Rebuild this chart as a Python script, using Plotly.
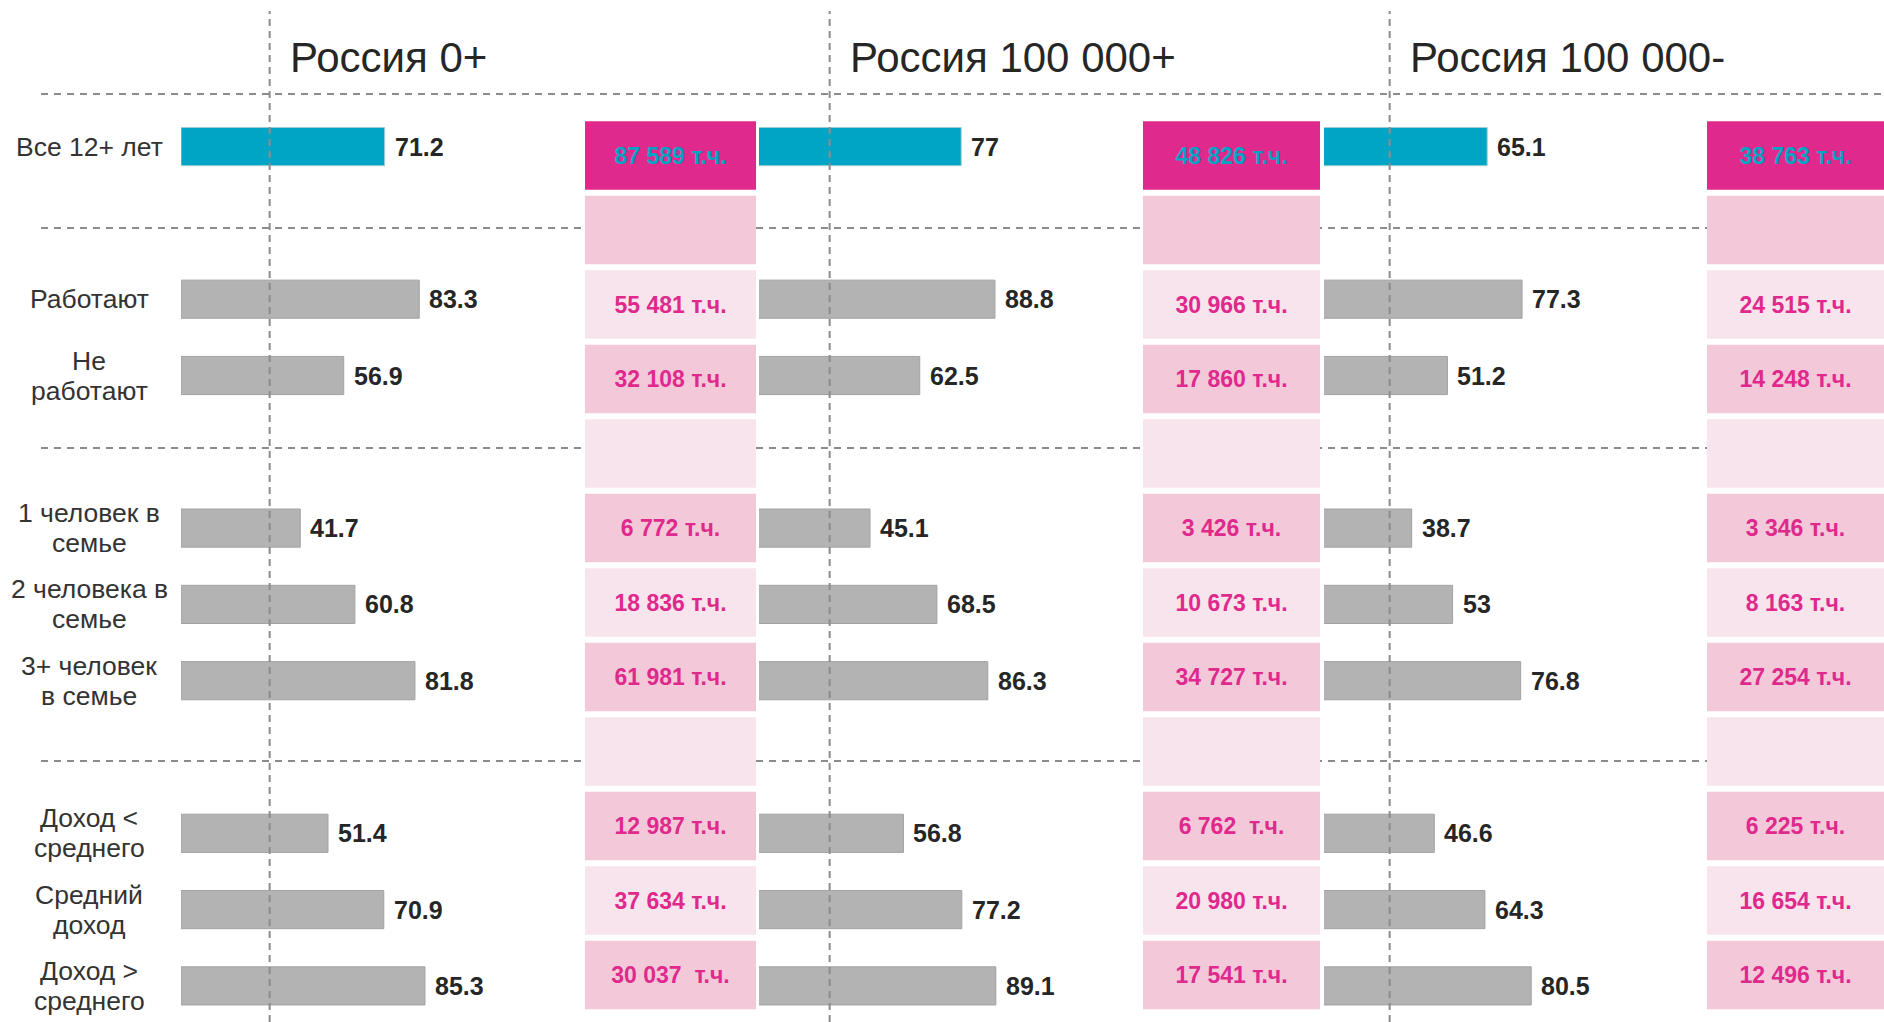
import plotly.graph_objects as go

W, H = 1884, 1022

# ---------------- data ----------------
row_labels = ["Все 12+ лет", "", "Работают", "Не<br>работают", "",
              "1 человек в<br>семье", "2 человека в<br>семье", "3+ человек<br>в семье", "",
              "Доход <<br>среднего", "Средний<br>доход", "Доход ><br>среднего"]

panel_titles = ["Россия 0+", "Россия 100 000+", "Россия 100 000-"]

values_russia_0 = [71.2, None, 83.3, 56.9, None, 41.7, 60.8, 81.8, None, 51.4, 70.9, 85.3]
values_russia_100k_plus = [77, None, 88.8, 62.5, None, 45.1, 68.5, 86.3, None, 56.8, 77.2, 89.1]
values_russia_100k_minus = [65.1, None, 77.3, 51.2, None, 38.7, 53, 76.8, None, 46.6, 64.3, 80.5]

pop_russia_0 = ["87 589 т.ч.", "", "55 481 т.ч.", "32 108 т.ч.", "", "6 772 т.ч.",
                "18 836 т.ч.", "61 981 т.ч.", "", "12 987 т.ч.", "37 634 т.ч.", "30 037\u00a0 т.ч."]
pop_russia_100k_plus = ["48 826 т.ч.", "", "30 966 т.ч.", "17 860 т.ч.", "", "3 426 т.ч.",
                        "10 673 т.ч.", "34 727 т.ч.", "", "6 762\u00a0 т.ч.", "20 980 т.ч.", "17 541 т.ч."]
pop_russia_100k_minus = ["38 763 т.ч.", "", "24 515 т.ч.", "14 248 т.ч.", "", "3 346 т.ч.",
                         "8 163 т.ч.", "27 254 т.ч.", "", "6 225 т.ч.", "16 654 т.ч.", "12 496 т.ч."]

reference_value = 31

# ---------------- styling ----------------
FONT = "Liberation Sans, Arial, sans-serif"
BLUE = "#00A5C6"
GREY = "#B3B3B3"
MAGENTA = "#E0298C"
PINK = "#F3C9DA"
LIGHT_PINK = "#F8E4EC"
DASH_COL = "#8C8C8C"

px_per_unit = 2.86
zeros_px = [181, 741, 1301]          # pixel of value 0 for each panel
bar_start_px = [181, 759, 1324]      # left edge of each bar area
bar_end_px = [585, 1143, 1707]       # right edge (start of pink column)
box_px = [(585, 756), (1143, 1320), (1707, 1884)]

rows = list(range(len(row_labels)))
panels = [values_russia_0, values_russia_100k_plus, values_russia_100k_minus]
pops = [pop_russia_0, pop_russia_100k_plus, pop_russia_100k_minus]

fig = go.Figure()

bar_colors = [BLUE if i == 0 else GREY for i in rows]
bar_lines = ["#9FCBD6" if i == 0 else "#A2A2A2" for i in rows]

for p, vals in enumerate(panels):
    xa = "x" if p == 0 else f"x{p+1}"
    fig.add_trace(go.Bar(
        x=vals, y=rows, orientation="h", xaxis=xa, yaxis="y",
        width=0.5, marker=dict(color=bar_colors, line=dict(color=bar_lines, width=1)),
        hoverinfo="skip", showlegend=False))

box_colors = [MAGENTA] + [PINK if i % 2 == 1 else LIGHT_PINK for i in rows[1:]]
box_text_colors = [BLUE] + [MAGENTA] * (len(rows) - 1)

for p, pop in enumerate(pops):
    xa = f"x{p+4}"
    fig.add_trace(go.Bar(
        x=[1] * len(rows), y=rows, orientation="h", xaxis=xa, yaxis="y2",
        width=0.919, marker=dict(color=box_colors, line=dict(width=0)),
        text=[f"<b>{t}</b>" if t else "" for t in pop],
        textposition="inside", insidetextanchor="middle", constraintext="none",
        textangle=0,
        textfont=dict(family=FONT, size=23, color=box_text_colors),
        hoverinfo="skip", showlegend=False))

layout = dict(
    width=W, height=H, margin=dict(l=0, r=0, t=0, b=0),
    paper_bgcolor="white", plot_bgcolor="rgba(0,0,0,0)",
    barmode="overlay", showlegend=False, font=dict(family=FONT),
)

# bar axes
for p in range(3):
    key = "xaxis" if p == 0 else f"xaxis{p+1}"
    r0 = (bar_start_px[p] - zeros_px[p]) / px_per_unit
    r1 = (bar_end_px[p] - zeros_px[p]) / px_per_unit
    layout[key] = dict(domain=[bar_start_px[p] / W, bar_end_px[p] / W], range=[r0, r1],
                       anchor="y", visible=False, fixedrange=True)
# box axes
for p in range(3):
    key = f"xaxis{p+4}"
    layout[key] = dict(domain=[box_px[p][0] / W, min(box_px[p][1] / W, 1)], range=[0, 1],
                       anchor="y2", visible=False, fixedrange=True)

# y axes: row r of bars centred at 146.6 + 76.3 r px; boxes at 155.5 + 74.5 r px
bar_c0, bar_pitch = 146.6, 76.3
box_c0, box_pitch = 155.5, 74.5
layout["yaxis"] = dict(domain=[0, 1], range=[(H - bar_c0) / bar_pitch, -bar_c0 / bar_pitch],
                       anchor="x", visible=False, fixedrange=True)
layout["yaxis2"] = dict(domain=[0, 1], range=[(H - box_c0) / box_pitch, -box_c0 / box_pitch],
                        anchor="x4", visible=False, fixedrange=True)

fig.update_layout(**layout)

# horizontal dashed separators (below boxes)
for ypx in [94, 228, 448, 761]:
    fig.add_shape(type="line", xref="paper", yref="paper", x0=41 / W, x1=1,
                  y0=1 - ypx / H, y1=1 - ypx / H, layer="below",
                  line=dict(color=DASH_COL, width=2, dash="7px,6px"))

# vertical dashed reference lines (above bars)
for p in range(3):
    xa = "x" if p == 0 else f"x{p+1}"
    fig.add_shape(type="line", xref=xa, yref="paper", x0=reference_value, x1=reference_value,
                  y0=0, y1=1 - 11 / H, layer="above",
                  line=dict(color=DASH_COL, width=2, dash="7px,5px"))

annotations = []
# panel titles
for p, t in enumerate(panel_titles):
    annotations.append(dict(text=t, xref="paper", yref="paper",
                            x=(zeros_px[p] + 107) / W, y=1 - 58 / H,
                            xanchor="left", yanchor="middle", showarrow=False,
                            font=dict(family=FONT, size=42, color="#262626")))
# row labels (each line placed separately for tighter line spacing)
LINE_GAP = 30
for r, lab in zip(rows, row_labels):
    if lab:
        lines = lab.split("<br>")
        n = len(lines)
        for i, ln in enumerate(lines):
            annotations.append(dict(text=ln, xref="paper", yref="y", x=89 / W, y=r,
                                    xanchor="center", yanchor="middle", align="center",
                                    yshift=((n - 1) / 2 - i) * LINE_GAP,
                                    showarrow=False,
                                    font=dict(family=FONT, size=26.5, color="#333333")))
# value labels
for p, vals in enumerate(panels):
    xa = "x" if p == 0 else f"x{p+1}"
    for r, v in zip(rows, vals):
        if v is not None:
            annotations.append(dict(text=f"<b>{v:g}</b>", xref=xa, yref="y", x=v, y=r,
                                    xanchor="left", yanchor="middle", xshift=8,
                                    showarrow=False,
                                    font=dict(family=FONT, size=25, color="#262626")))
fig.update_layout(annotations=annotations)

fig.write_html("out.html", config={"displayModeBar": False},
               post_script="document.body.style.margin='0';document.body.style.overflow='hidden';")
